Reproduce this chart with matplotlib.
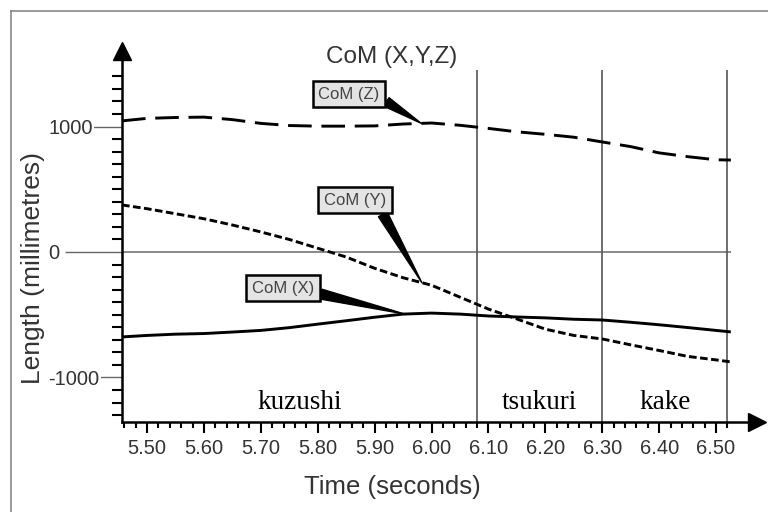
import numpy as np
import matplotlib
matplotlib.use("Agg")
import matplotlib.pyplot as plt
from matplotlib.lines import Line2D
from matplotlib.ticker import FixedLocator

plt.rcParams['font.family'] = ['Liberation Sans', 'DejaVu Sans']
plt.rcParams['lines.scale_dashes'] = False
plt.rcParams['axes.unicode_minus'] = False

# time (seconds) and centre of mass positions (millimetres)
time_s = [5.456, 5.50, 5.55, 5.60, 5.65, 5.70, 5.75, 5.80, 5.85, 5.90, 5.95, 6.00,
          6.05, 6.10, 6.15, 6.20, 6.25, 6.30, 6.35, 6.40, 6.45, 6.50, 6.526]
com_x = [-677, -665, -655, -650, -638, -625, -603, -575, -548, -520, -495, -487,
         -495, -510, -518, -525, -536, -542, -560, -580, -602, -625, -637]
com_y = [375, 345, 305, 265, 215, 160, 100, 30, -40, -130, -205, -265,
         -360, -455, -534, -615, -665, -693, -740, -785, -832, -860, -876]
com_z = [1045, 1065, 1072, 1075, 1055, 1025, 1008, 1003, 1003, 1005, 1020, 1028,
         1010, 985, 958, 938, 915, 877, 840, 790, 760, 735, 733]

# throw phases and their boundaries
phase_names = ["kuzushi", "tsukuri", "kake"]
phase_edges = [5.456, 6.08, 6.30, 6.52]

# callout labels: text, time where the pointer touches the curve
callout_labels = ["CoM (Z)", "CoM (Y)", "CoM (X)"]
callout_times = [5.982, 5.983, 5.953]

W, H = 768, 512
fig = plt.figure(figsize=(W / 100, H / 100), dpi=100)
fig.patch.set_facecolor("white")

# axes placed in pixel terms
left, right, top, bottom = 122, 757, 51, 422
ax = fig.add_axes([left / W, 1 - bottom / H, (right - left) / W, (bottom - top) / H])
ax.set_xlim(5.456, 6.572)
ax.set_ylim(-1355, 1602)

# curves
ax.plot(time_s, com_x, color="black", lw=2.1, solid_capstyle="butt")
ax.plot(time_s, com_y, color="black", lw=2.1, linestyle=(0, (5.5, 2.5)))
ax.plot(time_s, com_z, color="black", lw=2.1, linestyle=(0, (17, 7)))

# zero line and phase separators
ax.hlines(0, phase_edges[0], time_s[-1], color="#777", lw=1.2, zorder=1)
ax.vlines(phase_edges[1:], -1355, 1450, color="#555", lw=1.2, zorder=1)
for name, a, b in zip(phase_names, phase_edges[:-1], phase_edges[1:]):
    ax.text((a + b) / 2, -1203, name, ha="center", va="center",
            family=["Liberation Serif", "DejaVu Serif"], fontsize=19.5, color="black")

# callouts
series = {"CoM (X)": com_x, "CoM (Y)": com_y, "CoM (Z)": com_z}
box_pos = {"CoM (Z)": (5.855, 1259), "CoM (Y)": (5.866, 414), "CoM (X)": (5.739, -287)}
rel_pos = {"CoM (Z)": (1, 0.25), "CoM (Y)": (0.88, 0), "CoM (X)": (1, 0.2)}
for label, tt in zip(callout_labels, callout_times):
    yy = np.interp(tt, time_s, series[label])
    ax.annotate(label, xy=(tt, yy), xytext=box_pos[label], ha="center", va="center",
                fontsize=12, color="#444",
                bbox=dict(boxstyle="square,pad=0.35", fc="#e4e4e4", ec="black", lw=1.8),
                arrowprops=dict(arrowstyle="wedge,tail_width=0.6", fc="black", ec="black",
                                relpos=rel_pos[label], shrinkA=0, shrinkB=0),
                zorder=5)

# spines with arrow heads
for s in ["top", "right"]:
    ax.spines[s].set_visible(False)
for s in ["left", "bottom"]:
    ax.spines[s].set_linewidth(1.8)
    ax.spines[s].set_color("black")
ax.plot(1, 0, ">", color="black", markersize=13, transform=ax.transAxes, clip_on=False)
ax.plot(0, 1, "^", color="black", markersize=13, transform=ax.transAxes, clip_on=False)

# x ticks
xticks = np.round(np.arange(5.5, 6.51, 0.1), 2)
ax.set_xticks(xticks)
ax.set_xticklabels([f"{v:.2f}" for v in xticks])
ax.xaxis.set_minor_locator(FixedLocator(np.arange(5.46, 6.53, 0.02)))
ax.tick_params(axis="x", which="major", length=8, width=1.5, color="black",
               labelsize=14.5, labelcolor="#333", pad=4)
ax.tick_params(axis="x", which="minor", length=4, width=1.5, color="black")

# y ticks
ax.set_yticks([-1000, 0, 1000])
ax.yaxis.set_minor_locator(FixedLocator(np.arange(-1300, 1401, 100)))
ax.tick_params(axis="y", which="major", length=41, width=1, color="#666",
               labelsize=14.5, labelcolor="#333", pad=12)
ax.tick_params(axis="y", which="minor", length=7, width=1.5, color="black")
for lbl in ax.get_yticklabels():
    lbl.set_ha("left")
    lbl.set_bbox(dict(facecolor="white", edgecolor="none", pad=1))

# titles and axis labels
fig.text(392 / W, 1 - 57 / H, "CoM (X,Y,Z)", ha="center", va="center",
         fontsize=17.5, color="#333")
fig.text(392 / W, 1 - 487 / H, "Time (seconds)", ha="center", va="center",
         fontsize=18.5, color="#333")
fig.text(33 / W, 1 - 268 / H, "Length (millimetres)", ha="center", va="center",
         rotation=90, fontsize=19, color="#333")

# outer frame (left and top edges only visible)
fig.add_artist(Line2D([11 / W, 11 / W], [0, 1 - 11 / H], color="#888", lw=1.2,
                      transform=fig.transFigure))
fig.add_artist(Line2D([11 / W, 1], [1 - 11 / H, 1 - 11 / H], color="#888", lw=1.2,
                      transform=fig.transFigure))

fig.savefig("out.png", dpi=100)
